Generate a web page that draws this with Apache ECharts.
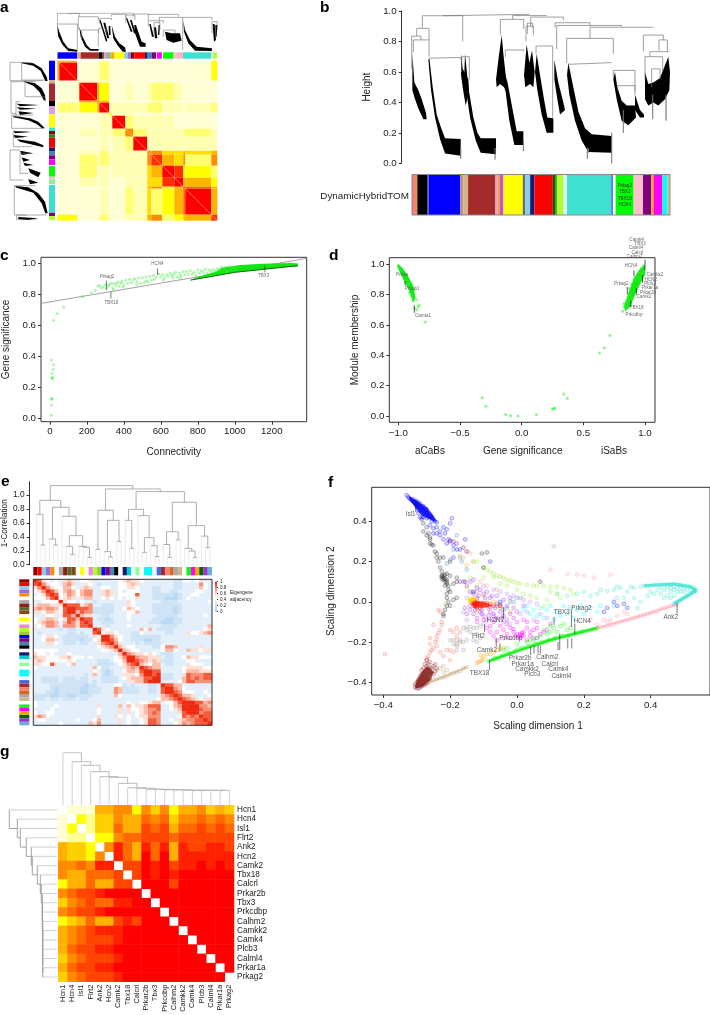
<!DOCTYPE html>
<html><head><meta charset="utf-8"><style>html,body{margin:0;padding:0;background:#fff}#c{width:710px;height:1015px}</style>
<script src="https://cdn.jsdelivr.net/npm/echarts@6/dist/echarts.min.js"></script></head><body><div id="c"></div>
<script>
/* ===== panel a ===== */
const aBandWidths=[2,18,2,18,2,10,3,13,8,14,4,11,12,9,2,26,6];
const aMatrix=[
"65000200001100003","59000200000000003","00111100000000000","00195300101221000","00157500000100000",
"22135911112211012","00000131100100000","00000119211110000","00010112621111221","00000101291111111",
"10010201116644545","10021211116854626","00020101114598332","00010100114489553","00000000215635875",
"00000100214235795","33000200115623558"];
const aTopStrip=[["royalblue",2],["blue",58],["tan",10],["brown",54],["black",12],["saddlebrown",4],["plum",6],["darkgrey",12],["yellowgreen",5],["orange",8],["yellow",30],["skyblue",10],["mediumpurple",10],["darkred",10],["red",32],["midnightblue",8],["steelblue",13],["purple",13],["white",2],["magenta",15],["white",3],["lime",32],["pink",8],["lightpink",20],["turquoise",86],["white",4],["greenyellow",12]];
const aLeftStrip=[["blue",58],["tan",10],["brown",53],["black",15],["plum",25],["yellow",40],["turquoise",10],["darkred",10],["forestgreen",10],["red",30],["midnightblue",10],["steelblue",13],["purple",12],["magenta",18],["white",2],["lime",32],["pink",8],["lightgreen",15],["white",2],["turquoise",83],["purple",10],["greenyellow",12]];
const aTopBrackets=[[205,400,39,40,42],[172,238,40,72,50],[172,232,72,100,150],[235,295,50,90,60],[245,295,90,120,140],[298,335,55,70,60],[335,378,43,50,70],[378,405,45,60,60],[400,445,42,50,45],[445,535,43,60,50],[445,490,62,80,70],[478,548,52,70,55],[548,636,52,150,60],[636,652,65,100,90],[490,525,90,110,100],[462,480,68,100,90],[296,318,85,100,100]];
const aTopBlobs=[
[[172,75],[178,95],[190,125],[205,145],[232,150],[232,155],[205,153],[188,135],[175,110]],
[[238,80],[248,110],[260,135],[272,147],[296,147],[296,152],[270,152],[255,140],[242,110]],
[[335,75],[345,110],[358,130],[375,142],[378,155],[368,155],[352,135],[340,115]],
[[298,60],[302,60],[322,122],[318,125]],[[310,68],[316,68],[328,115],[322,115]],[[326,78],[331,78],[332,105],[327,105]],
[[378,55],[382,55],[398,95],[392,95]],[[390,60],[395,60],[408,100],[402,100]],[[403,75],[408,75],[425,125],[437,130],[437,140],[420,140],[405,100]],
[[448,72],[452,72],[462,110],[456,110]],[[462,82],[468,82],[472,115],[465,115]],[[476,75],[480,75],[478,105],[474,105]],
[[495,95],[515,100],[540,100],[545,122],[520,128],[500,120]],
[[550,60],[555,90],[570,120],[590,140],[636,145],[636,153],[585,152],[565,130],[552,95]],
[[638,72],[644,72],[648,120],[642,125]],[[646,75],[652,75],[650,110],[647,110]]];
const aLeftBrackets=[[187,242,30,65,128],[188,240,65,95,135],[245,340,33,75,48],[245,290,75,105,135],[305,350,48,60,65],[345,385,35,100,130],[395,440,40,80,95],[450,540,30,60,70],[460,520,60,90,85],[557,645,43,105,140],[645,660,50,80,110]];
const aLeftBlobs=[
[[65,187],[100,190],[125,205],[140,230],[143,243],[136,243],[122,213],[100,197],[65,190]],
[[70,243],[105,250],[125,265],[135,285],[137,303],[131,300],[118,275],[100,257],[75,247]],
[[50,311],[118,315],[60,319]],[[50,322],[110,326],[60,329]],[[55,334],[100,339],[60,345]],
[[40,348],[90,355],[115,365],[130,380],[135,385],[126,385],[110,372],[85,361],[40,352]],
[[40,392],[95,396],[45,400]],[[40,405],[85,410],[45,414]],[[50,418],[105,425],[130,436],[130,442],[105,436],[60,425]],
[[60,452],[100,460],[65,465]],[[65,472],[90,480],[70,485]],[[70,488],[100,495],[75,498]],
[[85,505],[122,518],[115,532],[90,518]],
[[85,537],[115,548],[90,553]],
[[45,558],[85,562],[115,580],[135,605],[143,640],[136,640],[125,610],[100,578],[50,563]],
[[55,651],[115,655],[85,660],[55,658]]];
/* ===== panel b ===== */
const bHeightTicks=[0,0.2,0.4,0.6,0.8,1];
const bBrackets=[[368,628,.978,.969,.975],[307,428,.969,.886,.8],[290,327,.886,.835,.81],[275,303,.835,.62,.81],[280,327,.81,.73,.7],[327,422,.695,.69,.68],[425,448,.70,.6,.55],[578,680,.97,.945,.97],[541,611,.945,.84,.88],[556,611,.744,.7,.735],[622,638,.92,.85,.89],[618,640,.9,.8,.84],[648,698,.77,.72,.3],[632,730,.96,.9,.94],[705,810,.923,.89,.9],[710,905,.905,.75,.897],[810,1000,.893,.82,.89],[740,880,.82,.66,.72],[745,875,.661,.65,.66],[880,945,.61,.55,.45],[893,945,.51,.48,.47],[970,1030,.842,.735,.81],[1017,1042,.81,.74,.735],[990,1048,.733,.7,.73],[975,1028,.7,.55,.6],[995,1020,.62,.5,.55],[910,910,.35,.2,.2],[998,998,.45,.29,.29],[1038,1038,.45,.28,.28],[875,875,.2,0,0],[525,525,.1,.025,.025],[422,422,.1,.03,.03],[610,610,.15,.08,.08],[805,805,.1,.07,.07],[802,802,.1,.03,.03]];
const bBlobs=[
[[328,.69],[338,.5],[350,.32],[362,.24],[375,.165],[422,.16],[422,.05],[375,.065],[360,.16],[345,.3],[333,.48],[325,.68]],
[[435,.72],[445,.5],[460,.3],[472,.2],[482,.165],[528,.165],[528,.06],[482,.07],[467,.15],[450,.3],[437,.5],[433,.6]],
[[560,.56],[578,.35],[590,.21],[610,.21],[610,.12],[583,.12],[568,.28],[555,.5]],
[[528,.55],[535,.68],[545,.84],[550,.72],[556,.6],[562,.5],[558,.47],[552,.5],[540,.52],[530,.5]],
[[650,.72],[660,.58],[672,.42],[682,.3],[700,.295],[700,.2],[680,.2],[665,.32],[652,.48],[645,.6]],
[[612,.58],[620,.78],[628,.66],[636,.74],[644,.6],[640,.5],[630,.52],[616,.5]],
[[745,.66],[760,.5],[775,.34],[795,.23],[815,.19],[875,.18],[875,.07],[805,.075],[785,.15],[765,.28],[748,.45],[741,.58]],
[[885,.6],[892,.5],[905,.41],[920,.38],[945,.38],[948,.3],[925,.25],[905,.28],[890,.42],[880,.55]],
[[945,.45],[960,.35],[972,.32],[972,.3],[960,.3],[945,.35]],
[[975,.6],[985,.52],[1000,.53],[1020,.56],[1045,.7],[1050,.6],[1048,.48],[1035,.42],[1015,.38],[1000,.4],[985,.38],[975,.42]],
[[277,.72],[283,.53],[295,.48],[305,.42],[318,.33],[320,.29],[310,.29],[295,.36],[285,.42],[277,.48]],
[[423,.72],[428,.62],[445,.55],[447,.47],[437,.38],[430,.47],[423,.58]],
[[703,.68],[715,.53],[730,.4],[735,.35],[720,.32],[712,.42],[703,.55]]];
const bStrip=[["salmon",16],["black",31],["royalblue",3],["blue",94],["rosybrown",10],["tan",14],["brown",82],["plum",7],["orange",6],["mediumorchid",11],["yellow",58],["dimgray",7],["skyblue",15],["midnightblue",13],["red",55],["darkgreen",8],["forestgreen",4],["greenyellow",20],["lightcyan",10],["turquoise",133],["royalblue",5],["white",8],["lime",54],["pink",28],["purple",25],["orange",7],["magenta",26],["cyan",15],["tan",7]];
const bGenes=["Prkag2","TBX3","TBX18","HCN4"];
/* ===== panel c ===== */
const cXTicks=[0,200,400,600,800,1000,1200];
const cYTicks=[0,0.2,0.4,0.6,0.8,1];
const cPoints=[[8,.02],[8,.085],[10,.125],[10,.125],[12,.128],[10,.26],[15,.255],[15,.265],[12,.29],[18,.315],[20,.345],[8,.375],[20,.63],[40,.675],[75,.715],[178,.785],[225,.81],[245,.825],[260,.85],[270,.855],[280,.84],[290,.845],[300,.86],[305,.835],[315,.85],[320,.86],[330,.87],[340,.84],[345,.87],[355,.855],[360,.87],[370,.88],[375,.85],[385,.87],[390,.885],[400,.86],[410,.89],[420,.87],[430,.895],[440,.875],[450,.89],[460,.9],[470,.88],[480,.905],[490,.87],[500,.905],[510,.875],[520,.91],[530,.88],[540,.915],[550,.89],[560,.92],[575,.91],[590,.93],[600,.91],[610,.925],[620,.905],[630,.925],[640,.915],[650,.935],[660,.92],[670,.93],[680,.94],[690,.91],[700,.935],[710,.92],[720,.945],[730,.925],[740,.945],[750,.93],[760,.95],[770,.93],[780,.94],[790,.92],[800,.955],[810,.935],[820,.95],[830,.94],[840,.96],[850,.935],[860,.955],[870,.945],[880,.96],[890,.945],[900,.955],[910,.965],[920,.945],[930,.975],[940,.96],[950,.975],[960,.95],[970,.98],[980,.96],[990,.975],[1000,.97],[1010,.96],[1020,.98],[345,.83],[395,.845],[470,.86],[520,.885],[565,.895],[615,.89],[665,.905],[705,.905]];
const cBand=[[930,.97],[1030,.988],[1150,.996],[1300,1],[1342,.997],[1342,.98],[1200,.965],[1000,.94],[900,.92],[760,.89],[800,.91],[900,.945]];
const cCore=[[760,.89],[1000,.94],[1340,.983]];
const cFit=[[-48,.74],[1389,1.03]];
const cLabels=[["HCN4",582,.993],["Prkag2",310,.91],["TBX18",332,.745],["TBX3",1156,.918]];
const cArrows=[[[582,.966],[582,.923]],[[306,.885],[306,.83]],[[330,.772],[330,.815]],[[1163,.94],[1163,.983]]];
/* ===== panel d ===== */
const dXTicks=[-1,-0.5,0,0.5,1];
const dYTicks=[0,0.2,0.4,0.6,0.8,1];
const dPoints=[[-.78,.62],[-.83,.73],[-.85,.70],[-.87,.71],[-.84,.72],[-.855,.77],[-.88,.76],[-.89,.79],[-.91,.81],[-.87,.83],[-.9,.84],[-.92,.87],[-.89,.86],[-.94,.89],[-.96,.93],[-.98,.96],[-1,.99],[.63,.415],[.67,.45],[.715,.53],[.34,.145],[.37,.115],[.26,.05],[.25,.045],[.27,.052],[.12,.01],[-.03,0],[-.09,.002],[-.13,.01],[-.29,.065],[-.32,.12],[.82,.69],[.83,.72],[.84,.74],[.85,.71],[.87,.72],[.86,.78],[.88,.8],[.83,.74],[.85,.76],[.87,.84],[.89,.87],[.91,.9],[.93,.92],[.95,.95],[.97,.97],[.99,.99],[.96,.9],[.98,.94],[.92,.82],[.9,.78]];
const dLeftBand=[[-1,1],[-.96,.97],[-.92,.92],[-.88,.86],[-.86,.78],[-.88,.75],[-.92,.84],[-.96,.9],[-1,.97],[-1.01,.99]];
const dRightBand=[[.83,.72],[.87,.82],[.91,.91],[.96,.97],[1,1],[1,.93],[.96,.87],[.92,.8],[.88,.72],[.84,.69]];
const dLabels=[["Camk4",.932,1.163],["TBX3",.96,1.134],["Calml4",.927,1.108],["Calcrl",.938,1.079],["Calhm2",.916,1.048],["HCN4",.886,.993],["Prkag2",.808,.87],["Camkk2",1.081,.93],["HCN2",1.046,.90],["Plcb3",1.04,.875],["Prkar1a",1.04,.844],["Prkar2b",1.024,.815],["Camk2",.992,.789],["TBX18",.932,.712],["Prkcdbp",.911,.67],["Prkaa",-.97,.93],["Prkab1",-.886,.84],["Camta1",-.8,.662]];
const dArrows=[[[1,1.03],[1,.96]],[[.91,.96],[.91,.92]],[[.856,.85],[.856,.8]],[[.98,.93],[.98,.88]],[[.93,.8],[.93,.84]],[[.885,.72],[.885,.76]],[[-.87,.68],[-.87,.73]],[[-.945,.86],[-.945,.89]]];
/* ===== panel e ===== */
const eTree=[1.134,
 [.923,[.722,0,[.282,1,2]],[.823,[.368,3,[.282,4,5]],[.694,6,[.416,[.263,7,[.148,8,9]],[.263,10,[.249,11,[.105,12,13]]]]]]],
 [1.086,[.78,[.22,14,15],[.636,[.187,16,[.11,17,18]],[.335,19,20]]],
  [1.048,[.794,[.636,21,[.234,22,23]],[.703,24,[.388,[.177,25,26],[.273,27,[.115,28,29]]]]],
   [.895,[.473,[.29,30,[.105,31,32]],[.356,33,34]],[.56,[.234,35,[.196,36,[.105,37,38]]],[.41,39,[.244,40,41]]]]]]];
const eModules=["darkred","red","skyblue","mediumpurple","darkorange","white","darkgrey","#8b2010","darkolivegreen","saddlebrown","white","yellow","lightyellow","violet","greenyellow","yellowgreen","blue","purple","steelblue","black","white","midnightblue","darkturquoise","lightcyan","palegreen","white","cyan","cyan","lavenderblush","royalblue","brown","salmon","chocolate","darkgrey","tan","white","lime","magenta","orange","darkgreen","darkorchid","#6baed6"];
const eRows=[
"985434 3 5653443 53 3333 4 5655 43333 33322 4 434533",
"97544 3 6753354 32 3333 4 4565 33333 33322 3 333743",
"9754 4 6643565 33 4433 4 4554 33322 33322 3 333643",
"986 4 6764677 33 5653 4 3444 33322 33223 3 334433",
"98 4 5764677 33 5653 4 4448 33322 22212 3 344333",
"9 4 5653566 33 4543 4 3445 33322 21112 3 433333",
"9 5443433 23 3333 3 3543 33333 22223 3 333334",
"9888567 33 2223 3 3543 33322 22222 3 333333",
"998887 22 2223 3 4654 33322 22212 3 333333",
"96877 22 2223 3 3446 33322 22212 3 333333",
"9655 33 2233 3 3433 33332 22223 3 333343",
"988 32 2123 3 3433 33322 21122 3 333333",
"98 33 2223 3 3333 33222 11122 3 333333",
"9 33 3233 3 3433 33333 22223 3 333336",
"98 5433 3 3333 64632 22233 3 333345",
"9 4554 3 3322 43333 32233 3 544567",
"9975 4 3322 22222 33333 3 333333",
"986 4 3322 21122 33333 3 333333",
"97 5 3332 32222 33333 3 333333",
"9 6 3443 33322 47763 3 333533",
"9 6544 33333 46643 3 655455",
"9765 54543 22233 3 333333",
"997 66555 32233 4 655444",
"98 76565 22233 3 443333",
"9 65466 32233 3 544433",
"98766 33333 4 555544",
"9988 33333 4 666555",
"989 22233 5 877788",
"99 22233 6 878788",
"9 33334 6 887777",
"98866 3 333333",
"9976 4 333333",
"987 4 443343",
"98 6 653334",
"9 8 765455",
"9 998867",
"999776","99877","9788","988","98","9"];
const eScale=[0,0.1,0.2,0.3,0.4,0.5,0.6,0.7,0.8,0.9];
const eScaleTicks=[0,0.2,0.4,0.6,0.8,1];
const eHeightTicks=[0,0.2,0.4,0.6,0.8,1];
/* ===== panel f ===== */
const fXTicks=[-0.4,-0.2,0,0.2,0.4];
const fYTicks=[-0.4,-0.2,0,0.2,0.4];
const fTurquoise=[[.37,.075],[.38,.08],[.39,.08],[.4,.08],[.41,.085],[.42,.085],[.43,.085],[.44,.085],[.45,.085],[.46,.085],[.47,.09],[.48,.085],[.49,.085],[.5,.08],[.51,.08],[.52,.075],[.53,.07],[.535,.06],[.535,.055],[.53,.05],[.525,.045],[.52,.04],[.515,.035],[.51,.03],[.505,.025],[.5,.02],[.495,.015],[.49,.01],[.485,.005],[.48,0],[.475,-.005],[.47,-.01],[.5,.07],[.49,.07],[.48,.07],[.47,.075],[.46,.07],[.45,.075],[.51,.06],[.52,.06],[.5,.05],[.49,.05],[.48,.05],[.47,.06],[.46,.05],[.44,.06],[.43,.07],[.42,.06],[.43,.04],[.45,.03],[.44,.02],[.47,.03],[.46,.02],[.41,.04],[.4,.05],[.39,.03],[.35,.07],[.34,.075],[.33,.05],[.31,.07],[.3,.075],[.29,.06],[.27,.055],[.3,.02],[.32,.02],[.35,.02],[.37,0],[.36,-.03],[.29,-.02],[.24,.04],[.25,.06],[.22,.03],[.2,.05],[.18,.04],[.15,.03],[.12,.04]];
const fPink=[[.48,-.012],[.47,-.015],[.46,-.02],[.45,-.025],[.44,-.03],[.43,-.035],[.42,-.045],[.41,-.05],[.4,-.055],[.39,-.06],[.38,-.065],[.37,-.07],[.36,-.075],[.35,-.08],[.34,-.085],[.33,-.09],[.32,-.095],[.31,-.1],[.3,-.105],[.29,-.11],[.28,-.115],[.27,-.12],[.26,-.125],[.25,-.125],[.24,-.13],[.3,-.07],[.33,-.06],[.32,-.05],[.28,-.09],[.26,-.09],[.15,.14],[.18,.135],[.28,.135],[.23,.12],[.2,.13],[.1,.16],[.22,-.09],[.27,-.1],[.24,-.11]];
const fGreen=[[-.085,-.295],[-.07,-.285],[-.06,-.28],[-.05,-.27],[-.04,-.265],[-.03,-.26],[-.02,-.255],[-.01,-.25],[0,-.24],[.01,-.235],[.02,-.23],[.03,-.225],[.04,-.22],[.05,-.215],[.06,-.21],[.07,-.205],[.08,-.2],[.09,-.195],[.1,-.19],[.11,-.185],[.12,-.18],[.13,-.175],[.14,-.17],[.15,-.17],[.16,-.165],[.17,-.16],[.18,-.155],[.19,-.15],[.2,-.145],[.21,-.145],[.22,-.14],[.23,-.135],[.24,-.13],[-.065,-.28],[-.045,-.27],[-.025,-.255],[-.005,-.245],[.015,-.23],[.035,-.22],[.055,-.21],[.075,-.2],[.095,-.19],[.115,-.18],[.135,-.17],[.155,-.165],[.175,-.155],[.195,-.15],[.1,-.15],[.09,-.16],[.08,-.14],[.12,-.15],[.13,-.12],[.11,-.13],[.15,-.14],[.07,-.17],[.06,-.18],[.04,-.19],[.14,-.11],[.16,-.13],[.1,-.12],[-.04,-.24],[-.03,-.23],[0,-.21],[.03,-.2],[.05,-.19]];
const fTan=[[-.27,-.405],[-.26,-.4],[-.25,-.39],[-.24,-.385],[-.23,-.38],[-.22,-.375],[-.21,-.37],[-.2,-.36],[-.19,-.355],[-.18,-.35],[-.17,-.345],[-.16,-.33],[-.15,-.325],[-.24,-.34],[-.23,-.33],[-.22,-.32],[-.22,-.35],[-.21,-.34],[-.26,-.37]];
const fOrange=[[-.12,-.305],[-.115,-.3],[-.11,-.295],[-.105,-.29],[-.1,-.285],[-.1,-.27],[-.11,-.265],[-.09,-.26],[-.08,-.26],[-.07,-.25],[-.06,-.24],[-.05,-.23],[-.04,-.23],[-.13,.005],[-.12,.01],[-.14,0],[-.1,.03],[-.09,-.02],[-.12,-.05],[-.07,0],[-.05,-.03],[-.02,-.05],[-.15,.18]];
const fBrown=[[-.305,-.425],[-.3,-.43],[-.295,-.43],[-.29,-.425],[-.285,-.42],[-.28,-.415],[-.275,-.41],[-.27,-.405],[-.305,-.41],[-.3,-.415],[-.295,-.415],[-.29,-.41],[-.285,-.405],[-.28,-.4],[-.275,-.395],[-.27,-.39],[-.265,-.385],[-.26,-.38],[-.3,-.4],[-.295,-.4],[-.29,-.39],[-.285,-.385],[-.28,-.38],[-.275,-.375],[-.27,-.37],[-.265,-.365],[-.26,-.36],[-.255,-.35],[-.295,-.385],[-.29,-.37],[-.285,-.36],[-.28,-.355],[-.275,-.35],[-.27,-.345],[-.265,-.335],[-.26,-.33],[-.255,-.33],[-.25,-.32],[-.245,-.31],[-.285,-.34],[-.28,-.33],[-.27,-.32],[-.275,-.31],[-.265,-.31],[-.26,-.3],[-.27,-.29],[-.25,-.36],[-.245,-.345],[-.24,-.33]];
const fSalmon=[[-.27,-.29],[-.27,-.28],[-.265,-.27],[-.26,-.25],[-.255,-.24],[-.25,-.23],[-.245,-.2],[-.24,-.19],[-.24,-.17],[-.235,-.155],[-.23,-.14],[-.225,-.115],[-.225,-.1],[-.25,-.115],[-.26,-.18],[-.26,-.21],[-.24,-.22],[-.23,-.25],[-.22,-.27],[-.2,-.29],[-.21,-.24],[-.19,-.15],[-.2,-.14],[-.18,-.13],[-.18,-.17],[-.17,-.15],[-.395,-.26],[-.23,-.05],[-.235,-.04],[-.19,-.25],[-.2,-.24],[-.18,-.21],[-.17,-.19]];
const fGrey=[[-.2,-.19],[-.19,-.19],[-.18,-.19],[-.17,-.2],[-.16,-.2],[-.19,-.21],[-.18,-.22],[-.16,-.13],[-.15,-.125],[-.14,-.125],[-.13,-.13],[-.12,-.13],[-.15,-.14],[-.14,-.15],[-.12,-.16],[-.11,-.18],[-.12,-.2],[-.13,-.19],[-.15,-.19],[-.18,-.24],[-.16,-.24],[-.11,-.12],[.11,.275]];
const fBlack=[[-.285,.41],[-.28,.39],[-.27,.37],[-.265,.34],[-.26,.31],[-.25,.28],[-.245,.25],[-.24,.24],[-.24,.22],[-.235,.2],[-.23,.17],[-.225,.15],[-.225,.13],[-.22,.12],[-.215,.1],[-.21,.09],[-.205,.08],[-.205,.06],[-.21,.04],[-.21,.02],[-.205,0],[-.21,-.02],[-.215,-.04],[-.22,-.06],[-.22,-.07],[-.225,.125],[-.22,.11],[-.21,.1],[-.215,.08],[-.255,.285],[-.26,.29],[-.22,.13],[-.215,.135],[-.225,.115],[-.215,.115],[-.21,.11],[-.2,.05],[-.19,.09],[-.18,.1],[-.19,.01],[-.18,.02],[-.2,-.02],[-.2,.13],[-.18,.12],[-.21,.14],[-.2,.2],[-.22,.22],[-.23,.22],[-.28,.35],[-.27,.33],[-.26,.32],[-.105,.24],[-.09,.245],[-.155,.1],[-.1,.17],[.07,.1]];
const fBlue=[[-.33,.53],[-.325,.52],[-.322,.515],[-.318,.51],[-.315,.505],[-.312,.5],[-.308,.495],[-.305,.49],[-.302,.485],[-.298,.48],[-.295,.475],[-.29,.47],[-.287,.465],[-.283,.46],[-.28,.455],[-.276,.45],[-.272,.445],[-.268,.44],[-.264,.43],[-.26,.425],[-.255,.415],[-.25,.41],[-.245,.4],[-.24,.395],[-.31,.51],[-.3,.5],[-.29,.49],[-.28,.475],[-.27,.46],[-.3,.47],[-.295,.455],[-.285,.445],[-.275,.43],[-.265,.42],[-.255,.4],[-.29,.42],[-.285,.42],[-.28,.42],[-.27,.415],[-.295,.44],[-.24,.37],[-.25,.365],[-.26,.38],[-.23,.35],[-.22,.37],[-.21,.36],[-.195,.415],[-.2,.39],[-.215,.34],[-.24,.34],[-.25,.34],[-.23,.33],[-.2,.3],[-.19,.28],[-.18,.26],[-.19,.22],[-.21,.29],[-.22,.31],[-.155,.31],[-.17,.26],[-.08,.2],[-.13,.05],[-.05,0],[.3,-.02],[.32,-.01],[.29,0],[.27,-.03],[.26,-.05],[.33,-.03]];
const fGreenYellow=[[-.13,.2],[-.12,.2],[-.1,.17],[-.09,.16],[-.08,.15],[-.07,.14],[-.06,.13],[-.05,.125],[-.04,.12],[-.03,.11],[-.02,.105],[-.01,.1],[0,.095],[.01,.09],[.03,.085],[.05,.08],[.06,.08],[.08,.08],[.1,.075],[.12,.075],[.14,.07],[-.07,.12],[-.05,.09],[-.03,.08],[-.1,.12],[-.12,.08],[-.14,.12],[-.15,.07],[-.13,.05],[0,.06],[.02,.04],[.04,.03],[.06,.02],[.1,.05],[.12,.04],[.09,.01],[.08,-.02],[-.215,-.01],[.13,.02],[.16,.06],[.17,.04]];
const fCyan=[[.03,-.02],[.05,-.04],[.07,-.03],[.09,-.04],[.1,-.02],[.12,-.05],[.14,-.02],[.15,-.06],[.16,-.03],[.06,-.07],[.08,-.08],[.04,-.06],[.18,-.04],[.2,-.06],[.22,-.03],[.24,-.05],[.11,-.09],[.13,-.07],[.17,-.08],[.02,-.04],[.19,-.02],[.25,-.02]];
const fMagenta=[[-.09,-.13],[-.08,-.12],[-.07,-.1],[-.06,-.15],[-.05,-.12],[-.04,-.14],[-.03,-.11],[-.02,-.13],[-.01,-.15],[0,-.16],[.01,-.16],[.015,-.165],[.02,-.17],[-.005,-.17],[.01,-.18],[.03,-.13],[.04,-.15],[.05,-.14],[.06,-.13],[.07,-.16],[.08,-.15],[.09,-.14],[.04,-.17],[.05,-.18],[.03,-.19],[.06,-.18],[-.07,-.17],[-.06,-.19],[-.04,-.18],[-.03,-.16],[-.02,-.18],[-.08,-.15],[-.12,-.1],[-.1,-.09],[-.07,-.07],[0,-.1],[.02,-.09],[.03,-.1],[.1,-.11],[.06,-.1],[.01,-.17],[.005,-.175],[.015,-.155],[.02,-.15],[-.01,-.135]];
const fPurple=[[-.155,-.03],[-.14,-.04],[-.13,-.06],[-.12,-.08],[-.11,-.05],[-.1,-.07],[-.09,-.09],[-.08,-.05],[-.07,-.06],[-.06,-.08],[-.05,-.05],[-.04,-.07],[-.03,-.09],[-.02,-.06],[-.01,-.08],[0,-.05],[-.15,-.06],[-.14,-.02],[-.13,.04],[-.12,.02],[-.11,.06],[-.1,.04],[-.09,.05],[-.08,.02],[-.06,.03],[-.04,.01],[-.02,.02],[-.15,.08],[-.12,.07],[-.14,.1],[-.13,.11],[-.16,.1],[-.05,-.02],[-.03,-.02],[-.01,-.03],[.02,-.02],[-.125,-.04],[-.105,-.06],[-.085,-.07],[-.065,-.09],[-.045,-.08],[-.115,.03],[-.095,.02],[-.075,.03],[-.105,-.04],[-.085,-.03],[-.065,-.03]];
const fLavender=[[-.15,.02],[-.12,.05],[-.1,.08],[-.07,.06],[-.05,.05],[-.03,.04],[-.01,.03],[.02,.01],[.04,0],[.06,-.01],[-.02,-.11],[-.1,-.11],[-.15,-.09],[-.16,-.05],[-.04,-.1],[.01,-.06],[.03,-.05],[.05,-.09],[.07,-.06],[.09,-.08]];
const fRed=[[-.135,-.005],[-.13,-.01],[-.125,0],[-.125,-.01],[-.12,-.015],[-.12,-.005],[-.125,-.02],[-.13,-.02],[-.115,-.01],[-.11,-.01],[-.105,-.02],[-.1,-.015],[-.09,-.015],[-.08,-.01],[-.07,-.02],[-.11,-.03],[-.12,-.03],[-.1,-.005],[-.125,-.015],[-.12,-.025],[-.06,-.01],[-.05,-.02],[-.09,-.005],[-.08,-.025]];
const fYellow=[[-.135,.01],[-.14,.01],[-.13,.01],[-.135,0],[-.13,.015],[-.125,.02],[-.14,.005]];
const fSteel=[[-.05,-.01],[-.03,-.03],[-.04,-.04],[-.01,0],[.01,.02],[0,.02],[-.02,0],[-.06,-.02],[-.19,.26],[-.17,.22],[-.165,.2],[-.15,.16],[-.18,.33],[-.21,.19],[-.2,.21]];
const fDarkPurple=[[-.205,.31],[-.2,.305],[-.19,.3],[-.18,.29],[-.16,.27],[-.15,.25],[-.17,.1],[-.14,.05]];
const fPeach=[[-.15,.25],[-.14,.24],[-.16,.22],[-.17,.23],[-.13,.2],[-.11,.1],[-.09,.08],[-.06,.06]];
const fBlueRidge=[[-.325,.525],[-.3,.505],[-.27,.47],[-.25,.43],[-.24,.395],[-.26,.41],[-.285,.43],[-.3,.46],[-.32,.505]];
const fBrownCone=[[-.305,-.43],[-.285,-.425],[-.26,-.395],[-.25,-.35],[-.26,-.33],[-.27,-.32],[-.285,-.35],[-.3,-.39]];
const fRedCore=[[-.14,.01],[-.1,0],[-.07,-.02],[-.1,-.03],[-.13,-.03]];
const fYellowCore=[[-.145,.015],[-.13,.025],[-.125,.005],[-.14,-.005]];
const fGreenRidge=[[-.085,-.295],[0,-.245],[.1,-.19],[.24,-.13]];
const fTurquoiseRidge=[[.47,-.01],[.5,.02],[.535,.055],[.52,.075],[.47,.088],[.38,.08]];
const fPinkRidge=[[.24,-.13],[.36,-.075],[.48,-.012]];
const fTanRidge=[[-.27,-.405],[-.2,-.36],[-.15,-.325]];
const fLabels=[["Isl1",-.318,.436],["Ank2",.46,-.076],["TBX3",.134,-.053],["Prkag2",.193,-.033],["HCN4",.195,-.095],["HCN1",-.065,-.093],["Flrt2",-.115,-.171],["Prkcdbp",-.018,-.182],["Camk2",-.09,-.24],["TBX18",-.112,-.353],["Prkar2b",.01,-.28],["Prkar1a",.017,-.308],["Camkk2",.03,-.335],["Plcb3",.046,-.362],["Calhm2",.091,-.277],["Calcrl",.098,-.308],["Camk4",.124,-.337],["Calml4",.133,-.368]];
const fArrows=[[-.303,.448,.498],[.479,-.058,-.008],[.111,-.075,-.116],[.163,-.041,-.124],[.173,-.108,-.158],[-.04,-.083,-.025],[-.097,-.149,-.111],[-.062,-.224,-.182],[-.051,-.249,-.207],[-.082,-.34,-.293],[.041,-.265,-.224],[.051,-.257,-.216],[.063,-.257,-.216],[.07,-.257,-.216],[.123,-.24,-.199],[.128,-.24,-.158],[.152,-.232,-.182],[.164,-.232,-.182]];
/* ===== panel g ===== */
const gGenes=["Hcn1","Hcn4","Isl1","Flrt2","Ank2","Hcn2","Camk2","Tbx18","Calcrl","Prkar2b","Tbx3","Prkcdbp","Calhm2","Camkk2","Camk4","Plcb3","Calml4","Prkar1a","Prkag2"];
const gRows=["w000445525352445343","0w21335446563556565","02w1336447674667676","011w225667776777777",
"4332w58648684877887","43325w8649694888888","556588w779897889898","5446667w79898999999","24464477w9997999999",
"567789999w999999999","3567668899w99999999","56778999999w9999999","234644787999w999999","4567888999999w99999",
"45677789999999w9999","467788999999999w999","3567778999999999w99","46778899999999999w9","356777899999999999w"];
const gTopTree=[52.6,0,[43.6,1,[40,2,[33.6,3,[28.6,4,[28,5,[22,6,[17.5,7,[17,8,[16,9,[16,10,[15.5,11,[15.5,12,[15,13,[15,14,[15,15,[15,16,[15,17,18]]]]]]]]]]]]]]]]]];
const gLeftTree=[48,0,[40,1,[37,2,[31,3,[26,4,[25,5,[20,6,[17,7,[16,8,[15,9,[15,10,[15,11,[14.5,12,[14.5,13,[14.5,14,[14.5,15,[14.5,16,[14.5,17,18]]]]]]]]]]]]]]]]]];

/* ===== drawing ===== */
const FONT='"Liberation Sans",Arial,sans-serif';
const TXT='#222',LINE='#333';
const heatAColors=['#ffffd6','#ffffb4','#ffff70','#ffff00','#ffdd00','#ffb400','#ff8c00','#ff6400','#ff3000','#ff0000'];
const heatEColors=['#a0ccf0','#b9d9f4','#cfe3f6','#e3effa','#ffffff','#fde0d6','#fbbdaa','#f8907a','#f45c3e','#ee2a10'];
const heatGColors=['#ffffd2','#ffff90','#ffff00','#ffd000','#ffb000','#ff8c00','#ff6a00','#ff4500','#ff2000','#ff0000'];
const grids=[],xAxes=[],yAxes=[],series=[],visualMaps=[],graphics=[];
const hidden=(min,max,inverse)=>({type:'value',min,max,inverse:!!inverse,show:false});
function addGrid(l,t,r,b,x,y,frame){
  grids.push({left:l,top:t,width:r-l,height:b-t,show:!!frame,borderColor:LINE,borderWidth:1,containLabel:false});
  const i=grids.length-1; xAxes.push(Object.assign({gridIndex:i},x)); yAxes.push(Object.assign({gridIndex:i},y)); return i;
}
const fmt1=v=>(+v).toFixed(1).replace('-','\u2212');
function vAxis(min,max,ticks,o={}){
  return {type:'value',min,max,position:o.position,inverse:false,
    axisLine:{show:!!o.line,onZero:false,lineStyle:{color:LINE,width:1}},
    axisTick:{show:true,length:o.tick||3,customValues:ticks,lineStyle:{color:LINE,width:1}},
    axisLabel:{show:true,customValues:ticks,formatter:o.fmt||fmt1,fontSize:o.size||9.7,color:TXT,fontFamily:FONT,margin:o.margin||5},
    splitLine:{show:false},
    name:o.name,nameLocation:'middle',nameGap:o.gap,nameTextStyle:{fontSize:o.nsize||10,color:TXT,fontFamily:FONT}};
}
function addLines(gi,paths,color,width,z){
  const d=[];paths.forEach(p=>{p.forEach(q=>d.push(q));d.push([NaN,NaN]);});
  series.push({type:'line',xAxisIndex:gi,yAxisIndex:gi,data:d,symbol:'none',silent:true,connectNulls:false,lineStyle:{color,width},z:z||2});
}
function addPolys(gi,polys,color,z){
  series.push({type:'custom',xAxisIndex:gi,yAxisIndex:gi,silent:true,z:z||2,data:polys.map(p=>p[0]),
    renderItem:(params,api)=>({type:'polygon',shape:{points:polys[params.dataIndex].map(q=>api.coord(q))},style:{fill:color}})});
}
function addRects(gi,rects,z){
  series.push({type:'custom',xAxisIndex:gi,yAxisIndex:gi,silent:true,z:z||2,data:rects.map(r=>[r[0],r[2]]),
    renderItem:(params,api)=>{const r=rects[params.dataIndex],a=api.coord([r[0],r[2]]),b=api.coord([r[1],r[3]]);
      return {type:'rect',shape:{x:Math.min(a[0],b[0]),y:Math.min(a[1],b[1]),width:Math.abs(a[0]-b[0]),height:Math.abs(a[1]-b[1])},style:{fill:r[4]}};}});
}
function addStrip(gi,mods,vertical){
  let c=0;const rects=mods.map(m=>{const s=c;c+=m[1];return vertical?[0,1,s,c,m[0]]:[s,c,0,1,m[0]];});addRects(gi,rects);
}
function addLabels(gi,list,size,color,z){
  series.push({type:'scatter',xAxisIndex:gi,yAxisIndex:gi,clip:false,silent:true,symbolSize:0,z:z||6,
    data:list.map(l=>({name:l[0],value:[l[1],l[2]]})),
    label:{show:true,position:'inside',formatter:'{b}',fontSize:size,color:color||TXT,fontFamily:FONT}});
}
function addPoints(gi,pts,color,size,z){
  series.push({type:'scatter',xAxisIndex:gi,yAxisIndex:gi,silent:true,data:pts,symbolSize:size,z:z||3,
    itemStyle:{color:color,opacity:1,borderWidth:0}});
}
function addOpen(gi,pts,rgb,z){
  series.push({type:'scatter',xAxisIndex:gi,yAxisIndex:gi,silent:true,data:pts,symbolSize:3.8,z:z||3,
    itemStyle:{color:`rgba(${rgb},0.18)`,borderColor:`rgba(${rgb},0.55)`,borderWidth:.7}});
}
function bracketPaths(list,swap){return list.map(b=>{const p=[[b[0],b[3]],[b[0],b[2]],[b[1],b[2]],[b[1],b[4]]];return swap?p.map(q=>[q[1],q[0]]):p;});}
function treePaths(tree,swap){
  const inner=[],leaf=[],f=(q)=>swap?[q[1],q[0]]:q;
  const walk=n=>{ if(typeof n==='number')return{p:n+.5,h:0};
    const A=walk(n[1]),B=walk(n[2]),h=n[0];
    (A.h===0?leaf:inner).push([f([A.p,A.h]),f([A.p,h])]);
    (B.h===0?leaf:inner).push([f([B.p,B.h]),f([B.p,h])]);
    inner.push([f([A.p,h]),f([B.p,h])]);
    return{p:(A.p+B.p)/2,h};};
  walk(tree);return{inner,leaf};
}
function text(x,y,t,o={}){
  graphics.push({type:'text',x,y,rotation:o.rot||0,z:20,style:{text:t,fontSize:o.size||10,fontFamily:FONT,fontWeight:o.bold?'bold':'normal',fill:o.fill||TXT,textAlign:o.align||'center',textVerticalAlign:'middle'}});
}
/* panel a */
let gi=addGrid(57.3,12.7,217.3,51.7,hidden(172,652),hidden(38,155,true));
addLines(gi,bracketPaths(aTopBrackets),'#777',.6);addPolys(gi,aTopBlobs,'#000');
gi=addGrid(57.3,52.3,217.3,58.7,hidden(0,480),hidden(0,1));addStrip(gi,aTopStrip);
gi=addGrid(10,60.7,47,220,hidden(30,141),hidden(182,660,true));
addLines(gi,bracketPaths(aLeftBrackets,true),'#777',.6);addPolys(gi,aLeftBlobs,'#000');
gi=addGrid(49,60.7,55,220.7,hidden(0,1),hidden(0,480,true));addStrip(gi,aLeftStrip,true);
gi=addGrid(57.3,60.7,217.3,220.7,hidden(0,160),hidden(0,160,true));
(function(){const g=gi,e=[0];aBandWidths.forEach(w=>e.push(e[e.length-1]+w));const r=[];
  aMatrix.forEach((row,i)=>[...row].forEach((c,j)=>r.push([e[j],e[j+1],e[i],e[i+1],heatAColors[+c]])));addRects(g,r);
  addLines(g,[[[0,0],[160,160]]],'#ffc8a0',.6,3);})();
/* panel b */
gi=addGrid(401.7,11,670,163.3,hidden(245,1050),vAxis(0,1,bHeightTicks,{line:true,name:'Height',gap:29}));
addLines(gi,bracketPaths(bBrackets),'#777',.7);addPolys(gi,bBlobs,'#000');
gi=addGrid(412,174.5,670,215,hidden(0,773),hidden(0,1));addStrip(gi,bStrip);
graphics.push({type:'rect',shape:{x:412,y:174.5,width:258,height:40.5},z:15,style:{fill:'none',stroke:'#888',lineWidth:1}});
text(409,196,'DynamicHybridTOM',{align:'right',size:9.9});
bGenes.forEach((g,i)=>text(624.7,185.8+i*6.4,g,{size:4.6,fill:'#333'}));
/* panel c */
gi=addGrid(39.3,257.3,306.7,421.7,vAxis(-48,1389,cXTicks,{fmt:v=>String(v),name:'Connectivity',gap:26}),vAxis(-.022,1.037,cYTicks,{name:'Gene significance',gap:30}),true);
addLines(gi,[cFit],'#8a8a8a',.8,2);
addPoints(gi,cPoints,'rgba(70,235,70,.42)',3);
addPolys(gi,[cBand],'#12e612',3);addLines(gi,[cCore],'#0a6a0a',1,4);
addLabels(gi,cLabels,4.5,'#444');addLines(gi,cArrows,'#222',.6,5);
/* panel d */
gi=addGrid(389.3,257.7,655,422.3,vAxis(-1.073,1.081,dXTicks,{margin:6}),vAxis(-.0415,1.0435,dYTicks,{name:'Module membership',gap:29}),true);
addPoints(gi,dPoints,'rgba(40,240,40,.55)',3);
addPolys(gi,[dLeftBand,dRightBand],'#16ea16',3);
addLines(gi,dArrows,'#111',.7,5);addLabels(gi,dLabels,4.6,'#444');
text(430,451,'aCaBs');text(522.7,451,'Gene significance');text(614,451,'iSaBs');
/* panel e */
gi=addGrid(28.3,481.7,212,564.7,hidden(-1.18,42),vAxis(0,1.19,eHeightTicks,{line:true,name:'1-Correlation',gap:19,nsize:8.3,size:8.4}));
{const t=treePaths(eTree);addLines(gi,t.leaf,'#e6e6e6',.8);addLines(gi,t.inner,'#9b9b9b',.8);}
gi=addGrid(33.3,567,212,575.3,hidden(0,42),hidden(0,1));addStrip(gi,eModules.map(m=>[m,1]));
gi=addGrid(19.3,579.3,29.3,725.3,hidden(0,1),hidden(0,42,true));addStrip(gi,eModules.map(m=>[m,1]),true);
const eCats=eModules.map((m,i)=>String(i));
gi=addGrid(33.3,579.3,212,725.3,{type:'category',data:eCats,show:false},{type:'category',data:eCats,inverse:true,show:false});
(function(){const d=[],R=eRows.map(s=>s.replace(/ /g,''));
  for(let i=0;i<42;i++)for(let j=i;j<42;j++){const c=R[i]&&R[i][j-i];const v=c===undefined?3:+c;d.push([j,i,v]);if(i!==j)d.push([i,j,v]);}
  series.push({type:'heatmap',xAxisIndex:gi,yAxisIndex:gi,data:d,silent:true,progressive:0,itemStyle:{borderWidth:0}});
  visualMaps.push({type:'continuous',show:false,min:0,max:9,dimension:2,seriesIndex:series.length-1,inRange:{color:heatEColors}});})();
graphics.push({type:'rect',shape:{x:33.3,y:579.3,width:178.7,height:146},z:15,style:{fill:'none',stroke:'#333',lineWidth:1}});
gi=addGrid(215,581.7,217,611.7,hidden(0,1),vAxis(0,1,eScaleTicks,{position:'right',fmt:v=>String(v),size:4.5,margin:3,tick:1}));
addRects(gi,eScale.map((v,i)=>[0,1,v,v+.1,heatEColors[i]]));
text(230,593,'Eigengene',{align:'left',size:4.8});text(230,599.3,'adjacency',{align:'left',size:4.8});
/* panel f */
gi=addGrid(371.7,487.3,712,695,vAxis(-.4345,.5775,fXTicks,{}),vAxis(-.463,.569,fYTicks,{name:'Scaling dimension 2',gap:35}),true);
addLines(gi,[fPinkRidge],'rgba(255,190,200,.75)',2.2,2);addLines(gi,[fTanRidge],'rgba(215,185,140,.7)',2,2);addLines(gi,[fTurquoiseRidge],'rgba(64,224,208,.75)',3,2);
addLines(gi,[fGreenRidge],'rgba(20,230,20,.85)',2.6,2);
addPolys(gi,[fBlueRidge],'rgba(0,0,240,.8)',2);addPolys(gi,[fBrownCone],'rgba(139,35,35,.85)',2);
[[fPink,'255,150,170'],[fTan,'190,160,110'],[fOrange,'255,165,0'],[fSalmon,'240,110,95'],[fGrey,'150,150,150'],[fTurquoise,'64,224,208'],[fGreenYellow,'150,235,40'],[fCyan,'0,255,255'],[fSteel,'70,130,180'],[fPeach,'244,164,96'],[fLavender,'180,120,240'],[fMagenta,'255,0,255'],[fPurple,'160,32,240'],[fDarkPurple,'128,0,128'],[fBlack,'30,30,30'],[fBlue,'0,0,255'],[fBrown,'139,35,35'],[fGreen,'0,255,0'],[fRed,'255,0,0'],[fYellow,'255,220,0']].forEach(m=>addOpen(gi,m[0],m[1]));
addPolys(gi,[fRedCore],'rgba(255,20,0,.7)',4);addPolys(gi,[fYellowCore],'rgba(255,215,0,.85)',4);
addLines(gi,fArrows.map(a=>[[a[0],a[1]],[a[0],a[2]]]),'#222',.6,5);
addLabels(gi,fLabels,6.4,'#333');
text(538,726,'Scaling dimension 1');
/* panel g */
gi=addGrid(58.3,752.7,234,805.3,hidden(0,19),hidden(0,52.6));
{const t=treePaths(gTopTree);addLines(gi,t.leaf,'#c4c4c4',.8);addLines(gi,t.inner,'#a8a8a8',.8);}
gi=addGrid(9.3,805.3,57.3,981.7,hidden(0,48,true),hidden(0,19,true));
{const t=treePaths(gLeftTree,true);addLines(gi,t.leaf,'#c4c4c4',.8);addLines(gi,t.inner,'#8c8c8c',.8);}
gi=addGrid(58.3,805.3,234,981.7,
  {type:'category',data:gGenes,axisLine:{show:false},axisTick:{show:false},axisLabel:{interval:0,rotate:90,fontSize:7.4,color:TXT,fontFamily:FONT,margin:3}},
  {type:'category',data:gGenes,inverse:true,position:'right',axisLine:{show:false},axisTick:{show:false},axisLabel:{interval:0,fontSize:8.2,color:TXT,fontFamily:FONT,margin:3}});
(function(){const d=[];gRows.forEach((row,i)=>[...row].forEach((c,j)=>{if(c!=='w')d.push([j,i,+c]);}));
  series.push({type:'heatmap',xAxisIndex:gi,yAxisIndex:gi,data:d,silent:true,progressive:0,itemStyle:{borderWidth:0}});
  visualMaps.push({type:'continuous',show:false,min:0,max:9,dimension:2,seriesIndex:series.length-1,inRange:{color:heatGColors}});})();
/* panel letters */
[['a',0,8],['b',320,8],['c',0,255.5],['d',329,255.5],['e',1,482],['f',328,482.5],['g',0,752]].forEach(l=>text(l[1],l[2],l[0],{size:15.5,bold:true,align:'left',fill:'#000'}));

const chart=echarts.init(document.getElementById('c'),null,{renderer:'canvas'});
chart.setOption({animation:false,backgroundColor:'#fff',grid:grids,xAxis:xAxes,yAxis:yAxes,series,visualMap:visualMaps,graphic:{elements:graphics}});
</script></body></html>
